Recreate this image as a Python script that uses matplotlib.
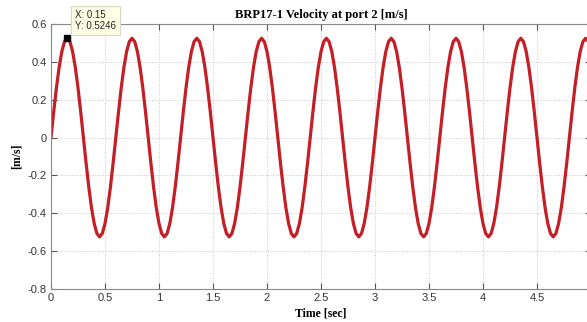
import numpy as np
import matplotlib.pyplot as plt

# one period of the velocity signal (0.6 s), read every 0.025 s
dt = 0.025
t_end = 5.0
cycle = [0.0, 0.1358, 0.2623, 0.3709, 0.4543, 0.5067,
         0.5246, 0.5067, 0.4543, 0.3709, 0.2623, 0.1358,
         0.0, -0.1358, -0.2623, -0.3709, -0.4543, -0.5067,
         -0.5246, -0.5067, -0.4543, -0.3709, -0.2623, -0.1358]

# data tip
tip_x = 0.15
tip_y = 0.5246

x_ticks = [0, 0.5, 1, 1.5, 2, 2.5, 3, 3.5, 4, 4.5, 5]
x_labels = ['0', '0.5', '1', '1.5', '2', '2.5', '3', '3.5', '4', '4.5', '5']
y_ticks = [-0.8, -0.6, -0.4, -0.2, 0, 0.2, 0.4, 0.6]
y_labels = ['-0.8', '-0.6', '-0.4', '-0.2', '0', '0.2', '0.4', '0.6']

n = int(round(t_end / dt)) + 1
t = np.arange(n) * dt
v = np.tile(cycle, n // len(cycle) + 1)[:n]

fig = plt.figure(figsize=(5.87, 3.22), dpi=100)
ax = fig.add_axes([0.0869, 0.1025, 0.9199, 0.823])

ax.plot(t, v, color='#c41e26', lw=2.3, solid_capstyle='round')
ax.plot([tip_x], [tip_y], 's', color='black', ms=5)

ax.annotate('X: 0.15\nY: 0.5246', xy=(tip_x, tip_y), xytext=(75, 312),
            textcoords='figure pixels', fontsize=7, family='Liberation Sans',
            va='top', ha='left', linespacing=1.15, color='#222222',
            bbox=dict(boxstyle='square,pad=0.4', fc='#ffffe6', ec='#d8d8c8', lw=0.8))

ax.set_xlim(0, 5)
ax.set_ylim(-0.8, 0.6)
ax.set_xticks(x_ticks)
ax.set_xticklabels(x_labels)
ax.set_yticks(y_ticks)
ax.set_yticklabels(y_labels)
ax.tick_params(direction='in', length=4, width=0.8, color='#555555',
               labelsize=8, labelcolor='#333333', top=True, right=True, pad=3)
for lbl in ax.get_xticklabels() + ax.get_yticklabels():
    lbl.set_family('Liberation Sans')

for s in ax.spines.values():
    s.set_color('#888888')
    s.set_linewidth(0.8)

ax.grid(True, linestyle=':', color='#c8c8c8', lw=0.7)

ax.set_title('BRP17-1 Velocity at port 2 [m/s]', fontsize=9, fontweight='bold',
             family='Liberation Serif', pad=4)
ax.set_xlabel('Time [sec]', fontsize=8.5, fontweight='bold', family='Liberation Serif', labelpad=3)
ax.set_ylabel('[m/s]', fontsize=8.5, fontweight='bold', family='Liberation Serif', labelpad=4)

fig.savefig('out.png', dpi=100)
